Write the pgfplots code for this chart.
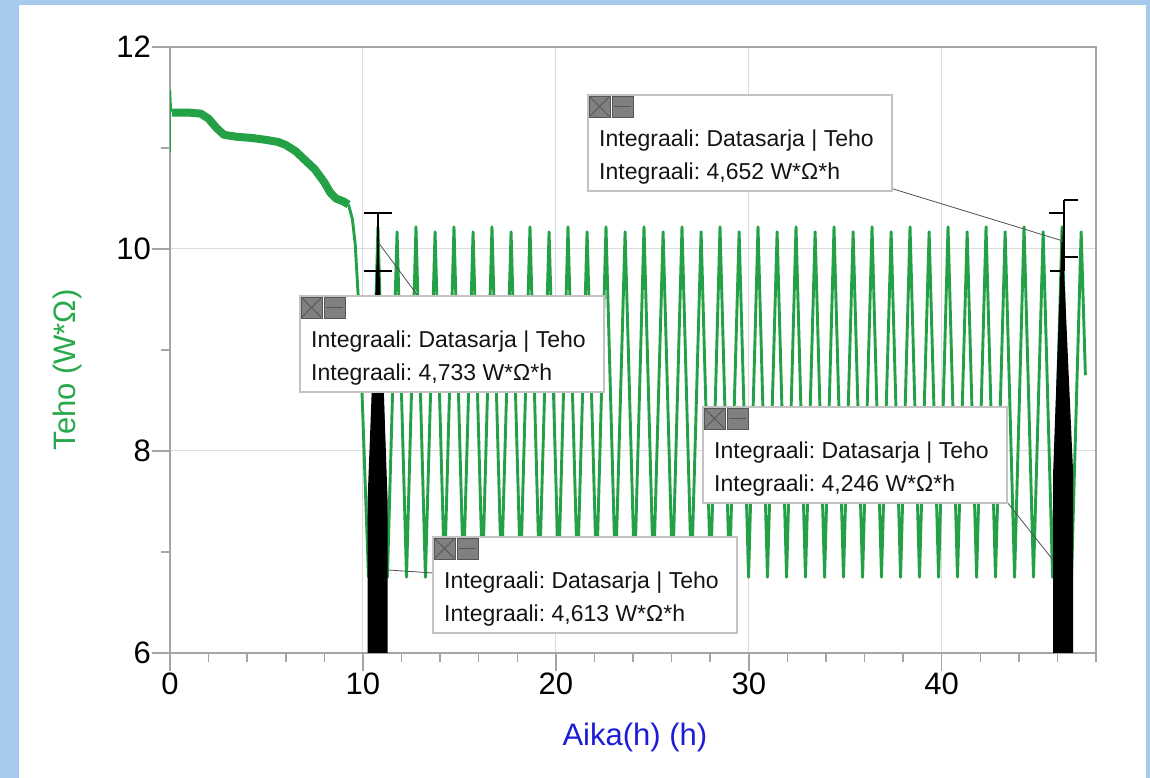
\documentclass[border=0pt]{standalone}
\usepackage{fontspec}
\setmainfont{Liberation Sans}
\usepackage{pgfplots}
\pgfplotsset{compat=1.18}
\frenchspacing
\definecolor{bgblue}{RGB}{166,202,236}
\definecolor{plotgreen}{RGB}{36,160,70}
\definecolor{labgreen}{RGB}{40,168,74}
\definecolor{labblue}{RGB}{28,28,214}
\definecolor{axgray}{RGB}{165,165,165}
\definecolor{gridgray}{RGB}{220,220,220}
\definecolor{boxgray}{RGB}{195,195,195}
\definecolor{icongray}{RGB}{128,128,128}
\definecolor{icondark}{RGB}{85,85,85}
\definecolor{leadgray}{RGB}{80,80,80}
\definecolor{textdark}{RGB}{20,20,20}

\newcommand{\annbox}[3]{%
  \pgfmathsetmacro{\bxL}{#1}\pgfmathsetmacro{\bxT}{778-#2}%
  \draw[boxgray, line width=1.2pt, fill=white] (\bxL,\bxT) rectangle ++(304,-96);
  \draw[icondark, fill=icongray, line width=0.8pt] (\bxL+1,\bxT-1) rectangle ++(21,-21);
  \draw[icondark, line width=1pt] (\bxL+2,\bxT-2) -- (\bxL+21,\bxT-21) (\bxL+2,\bxT-21) -- (\bxL+21,\bxT-2);
  \draw[icondark, fill=icongray, line width=0.8pt] (\bxL+24,\bxT-1) rectangle ++(21,-21);
  \draw[icondark, line width=1.2pt] (\bxL+26,\bxT-11.5) -- (\bxL+43,\bxT-11.5);
  \node[anchor=base west, inner sep=0pt, text=textdark, font=\fontsize{23}{23}\selectfont] at (\bxL+11,\bxT-52) {Integraali: Datasarja | Teho};
  \node[anchor=base west, inner sep=0pt, text=textdark, font=\fontsize{23}{23}\selectfont] at (\bxL+11,\bxT-85) {Integraali: #3 W*Ω*h};
}

\begin{document}
\begin{tikzpicture}
\fill[bgblue] (0pt,0pt) rectangle (1150pt,778pt);
\path[use as bounding box] (0pt,0pt) rectangle (1150pt,778pt);
\fill[white] (19pt,0pt) rectangle (1146pt,773pt);

\begin{axis}[
  at={(170pt,125pt)}, anchor=south west,
  scale only axis, width=926pt, height=606pt,
  xmin=0, xmax=48, ymin=6, ymax=12,
  xtick={0,10,20,30,40}, ytick={6,8,10,12},
  minor xtick={2,4,...,48}, minor ytick={7,9,11},
  tick pos=left, tick align=outside,
  major tick length=18pt, minor tick length=9pt,
  tick style={axgray, line width=1.5pt},
  grid=major, major grid style={gridgray, line width=1pt},
  axis line style={axgray, line width=1.8pt},
  /pgf/number format/assume math mode=true,
  tick label style={font=\fontsize{31}{31}\selectfont, text=black},
  xticklabel style={inner sep=2pt},
  yticklabel style={inner sep=1pt},
  xlabel={Aika(h) (h)},
  ylabel={Teho (W*Ω)},
  xlabel style={at={(axis description cs:0.502,-0.140)}, anchor=center, font=\fontsize{31}{31}\selectfont, text=labblue},
  ylabel style={at={(axis description cs:-0.111,0.467)}, anchor=center, font=\fontsize{31}{31}\selectfont, text=labgreen},
]
% initial spike
\addplot[plotgreen, line width=1.5pt] coordinates {(0,10.96)(0.02,11.58)(0.07,11.36)};
% slowly decaying band
\addplot[plotgreen, line width=8pt, line join=round] coordinates {
(0.1,11.35)(1.0,11.35)(1.6,11.34)(2.0,11.29)(2.4,11.20)(2.8,11.13)(3.5,11.11)(4.2,11.10)
(5.0,11.08)(5.6,11.06)(6.0,11.03)(6.5,10.97)(7.0,10.88)(7.5,10.79)(8.0,10.66)(8.3,10.56)
(8.6,10.50)(9.0,10.47)(9.25,10.44)};
% drop and oscillation
\addplot[plotgreen, line width=2.9pt, line join=round] coordinates {
(9.25,10.44)(9.45,10.30)(9.6,10.05)(9.75,9.55)(9.95,8.6)(10.15,7.5)(10.29,6.75)
(10.78,10.22)(11.27,6.75)(11.77,10.17)(12.26,6.75)(12.75,10.22)(13.24,6.75)
(13.74,10.17)(14.23,6.75)(14.72,10.22)(15.21,6.75)(15.71,10.17)(16.20,6.75)
(16.69,10.22)(17.18,6.75)(17.68,10.17)(18.17,6.75)(18.66,10.22)(19.15,6.75)
(19.65,10.17)(20.14,6.75)(20.63,10.22)(21.12,6.75)(21.62,10.17)(22.11,6.75)
(22.60,10.22)(23.09,6.75)(23.59,10.17)(24.08,6.75)(24.57,10.22)(25.06,6.75)
(25.56,10.17)(26.05,6.75)(26.54,10.22)(27.03,6.75)(27.53,10.17)(28.02,6.75)
(28.51,10.22)(29.00,6.75)(29.50,10.17)(29.99,6.75)(30.48,10.22)(30.97,6.75)
(31.47,10.17)(31.96,6.75)(32.45,10.22)(32.94,6.75)(33.44,10.17)(33.93,6.75)
(34.42,10.22)(34.91,6.75)(35.41,10.17)(35.90,6.75)(36.39,10.22)(36.88,6.75)
(37.38,10.17)(37.87,6.75)(38.36,10.22)(38.85,6.75)(39.35,10.17)(39.84,6.75)
(40.33,10.22)(40.82,6.75)(41.32,10.17)(41.81,6.75)(42.30,10.22)(42.79,6.75)
(43.29,10.17)(43.78,6.75)(44.27,10.22)(44.76,6.75)(45.26,10.17)(45.75,6.75)
(46.24,10.22)(46.73,6.75)(47.23,10.17)(47.45,8.75)};
% integral areas
\addplot[fill=black, draw=none] coordinates {(10.24,6)(10.24,7.5)(10.78,10.22)(11.28,7.5)(11.28,6)} \closedcycle;
\addplot[fill=black, draw=none] coordinates {(45.78,6)(45.78,7.8)(46.24,10.22)(46.81,7.8)(46.81,6)} \closedcycle;
\end{axis}

\begin{scope}[x=1pt, y=1pt]
% brackets (pixel coords, y = 778 - py)
\draw[black, line width=2pt] (378,565) -- (378,482);
\draw[black, line width=2pt] (364,565) -- (392,565) (364,507) -- (392,507);
\draw[black, line width=2pt] (1064,578) -- (1064,507);
\draw[black, line width=2pt] (1064,578) -- (1078,578) (1064,521) -- (1078,521);
\draw[black, line width=2pt] (1049,565) -- (1063,565) (1050,507) -- (1063,507);
% leader lines
\draw[leadgray, line width=0.8pt] (890,590) -- (1063,537);
\draw[leadgray, line width=0.8pt] (378,536) -- (418,482);
\draw[leadgray, line width=0.8pt] (1003,281) -- (1053,218);
\draw[leadgray, line width=0.8pt] (388,208) -- (433,205);
% boxes
\annbox{588}{95}{4,652}
\annbox{300}{296}{4,733}
\annbox{703}{407}{4,246}
\annbox{433}{537}{4,613}
\end{scope}
\end{tikzpicture}
\end{document}
